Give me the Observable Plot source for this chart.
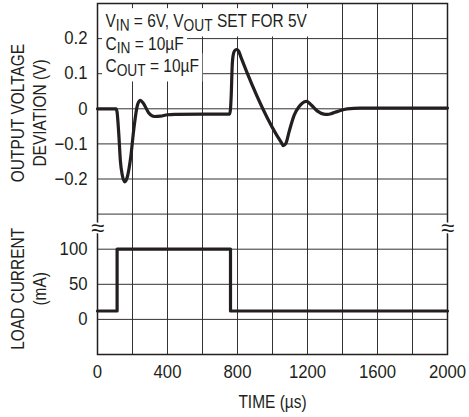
<!DOCTYPE html>
<html>
<head>
<meta charset="utf-8">
<script src="https://cdn.jsdelivr.net/npm/d3@7"></script>
<script src="https://cdn.jsdelivr.net/npm/@observablehq/plot@0.6"></script>
<style>
  html, body { margin: 0; padding: 0; background: #fff; }
</style>
</head>
<body>
<div id="chart"></div>
<script>
// ---- data ----
const voltTime = [0, 106, 112, 122, 131, 142, 156, 170, 189, 208, 227, 244, 262, 293, 325, 360, 400, 450, 600, 755, 760, 765, 769, 775, 783, 795, 806, 819, 1050, 1062, 1076, 1095, 1124, 1150, 1170, 1194, 1217, 1255, 1293, 1315, 1340, 1370, 1427, 1500, 2000];
const voltDev  = [0, 0, -0.01, -0.075, -0.15, -0.19, -0.208, -0.195, -0.141, -0.056, 0.008, 0.024, 0.016, -0.012, -0.022, -0.021, -0.017, -0.016, -0.015, -0.015, 0.0, 0.05, 0.115, 0.152, 0.165, 0.169, 0.165, 0.148, -0.096, -0.105, -0.099, -0.065, -0.018, 0.005, 0.016, 0.021, 0.013, -0.006, -0.015, -0.016, -0.013, -0.008, 0.0, 0.002, 0.002];
const currTime = [0, 112, 760, 2000];
const currLoad = [12, 100, 12, 12];   // mA

const xTicks = [0, 400, 800, 1200, 1600, 2000];
const xGrid = [0, 200, 400, 600, 800, 1000, 1200, 1400, 1600, 1800, 2000];
const voltTicks = [-0.2, -0.1, 0, 0.1, 0.2];
const currTicks = [0, 50, 100];
const yGrid = [-0.7, -0.6, -0.5, -0.4, -0.3, -0.2, -0.1, 0, 0.1, 0.2, 0.3];
const annotLines = ["V{IN} = 6V, V{OUT} SET FOR 5V", "C{IN} = 10µF", "C{OUT} = 10µF"];

// current (mA) shares the vertical scale with the voltage panel
const curToY = (mA) => mA / 500 - 0.6;
const yToCur = (y) => Math.round((y + 0.6) * 500);

const voltData = voltTime.map((t, i) => ({t, v: voltDev[i]}));
const currData = currTime.map((t, i) => ({t, v: curToY(currLoad[i])}));

const ink = "#231f20";
const gridCol = "#333";
const font = "'Liberation Sans', Arial, sans-serif";
const fmtV = (d) => Math.abs(d) < 1e-9 ? "0" : (d < 0 ? "\u2212" : "") + Math.abs(d).toFixed(1);

const chart = Plot.plot({
  width: 469,
  height: 417,
  marginLeft: 97,
  marginRight: 22,
  marginTop: 3,
  marginBottom: 63,
  style: {fontFamily: font, fontSize: "18px", color: ink, background: "#fff"},
  x: {domain: [0, 2000]},
  y: {domain: [-0.7, 0.3]},
  marks: [
    Plot.gridX(xGrid, {stroke: gridCol, strokeOpacity: 1, strokeWidth: 1}),
    Plot.gridY(yGrid, {stroke: gridCol, strokeOpacity: 1, strokeWidth: 1}),
    ...annotLines.map((line, i) => Plot.text([line], {
      frameAnchor: "top-left", dx: 8, dy: 18 + i * 22.5, lineAnchor: "middle", textAnchor: "start",
      fill: ink, fontSize: 18
    })),
    Plot.frame({stroke: ink, strokeWidth: 1.5}),
    Plot.text(["\u2248", "\u2248"], {x: [0, 2000], y: [-0.34, -0.34], fill: ink, stroke: "white", strokeWidth: 4, fontSize: 24, lineAnchor: "middle"}),
    Plot.line(currData, {x: "t", y: "v", curve: "step-after", stroke: ink, strokeWidth: 3.2}),
    Plot.line(voltData, {x: "t", y: "v", curve: "monotone-x", stroke: ink, strokeWidth: 3.2}),
    Plot.axisX({ticks: xTicks, tickSize: 0, tickPadding: 11, tickFormat: (d) => String(d), label: null, fontSize: 18}),
    Plot.axisY({ticks: voltTicks, tickSize: 0, tickPadding: 10, tickFormat: fmtV, label: null, fontSize: 18}),
    Plot.axisY({ticks: currTicks.map(curToY), tickSize: 0, tickPadding: 10, tickFormat: (d) => String(yToCur(d)), label: null, fontSize: 18}),
    Plot.text(["OUTPUT VOLTAGE"], {frameAnchor: "left", textAnchor: "middle", y: [-0.012], dx: -79, rotate: -90, fill: ink, fontSize: 18}),
    Plot.text(["DEVIATION (V)"], {frameAnchor: "left", textAnchor: "middle", y: [-0.012], dx: -57, rotate: -90, fill: ink, fontSize: 18}),
    Plot.text(["LOAD CURRENT"], {frameAnchor: "left", textAnchor: "middle", y: [-0.513], dx: -79, rotate: -90, fill: ink, fontSize: 18}),
    Plot.text(["(mA)"], {frameAnchor: "left", textAnchor: "middle", y: [-0.513], dx: -57, rotate: -90, fill: ink, fontSize: 18}),
    Plot.text(["TIME (µs)"], {frameAnchor: "bottom", dy: 48, lineAnchor: "middle", fill: ink, fontSize: 18})
  ]
});

// subscripts for annotation text: "X{SUB}" -> X with lowered SUB
const NS = "http://www.w3.org/2000/svg";
const annotEls = [];
chart.querySelectorAll("text").forEach((el) => {
  const s = el.textContent;
  if (!s.includes("{")) return;
  annotEls.push(el);
  el.textContent = "";
  const parts = s.split(/(\{[^}]*\})/);
  let pending = 0;
  parts.forEach((p) => {
    if (!p) return;
    const ts = document.createElementNS(NS, "tspan");
    if (p.startsWith("{")) {
      ts.textContent = p.slice(1, -1);
      ts.setAttribute("dy", "4");
      ts.setAttribute("font-size", "16");
      pending = -4;
    } else {
      ts.textContent = p;
      if (pending) ts.setAttribute("dy", String(pending));
      pending = 0;
    }
    el.appendChild(ts);
  });
});

document.getElementById("chart").appendChild(chart);

// emulate the reference's condensed typeface
chart.querySelectorAll("text").forEach((el) => {
  const s = el.textContent;
  if (!s || s === "\u2248") return;
  const k = /[A-Za-z]/.test(s) ? 0.86 : 0.93;
  const tf = el.getAttribute("transform");
  if (tf) {
    el.setAttribute("transform", tf + ` scale(${k},1)`);
  } else {
    const len = el.getComputedTextLength();
    if (len > 0) {
      el.setAttribute("textLength", (len * k).toFixed(1));
      el.setAttribute("lengthAdjust", "spacingAndGlyphs");
    }
  }
});

// white boxes behind the annotation lines (sized from the text itself)
annotEls.forEach((el) => {
  const b = el.getBBox();
  const r = document.createElementNS(NS, "rect");
  r.setAttribute("x", b.x - 4);
  r.setAttribute("y", b.y - 3);
  r.setAttribute("width", b.width + 8);
  r.setAttribute("height", b.height + 5);
  r.setAttribute("fill", "white");
  const tf = el.getAttribute("transform");
  if (tf) r.setAttribute("transform", tf);
  el.parentNode.insertBefore(r, el);
});
</script>
</body>
</html>
